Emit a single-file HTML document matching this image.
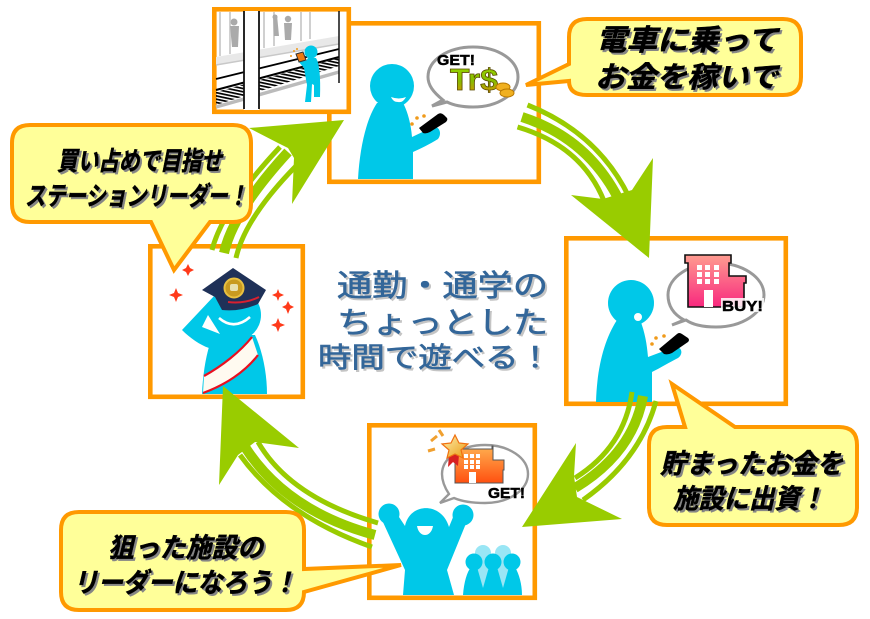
<!DOCTYPE html>
<html lang="ja">
<head>
<meta charset="utf-8">
<style>
html,body{margin:0;padding:0;background:#fff}
svg{display:block}
.c{font-family:"Liberation Sans","Noto Sans CJK JP",sans-serif;font-weight:700;font-style:italic;fill:#000;stroke:#000;stroke-width:.5;filter:drop-shadow(2px 2px 0 #858585)}
.m{font-family:"Liberation Sans","Noto Sans CJK JP",sans-serif;font-weight:400;fill:#336699;stroke:#336699;stroke-width:.6;filter:drop-shadow(2px 2px 0 #c4c4c4)}
.l{font-family:"Liberation Sans",sans-serif;font-weight:700;fill:#000;stroke:#000;stroke-width:.5}
</style>
</head>
<body>
<svg xmlns="http://www.w3.org/2000/svg" width="870" height="619" viewBox="0 0 870 619">
<defs>
<linearGradient id="g1" x1="0" y1="0" x2="0" y2="1"><stop offset="0" stop-color="#ff9c90"/><stop offset="1" stop-color="#f8287e"/></linearGradient>
<linearGradient id="g2" x1="0" y1="0" x2="0" y2="1"><stop offset="0" stop-color="#ffb050"/><stop offset="1" stop-color="#ff5010"/></linearGradient>
<linearGradient id="g3" x1="0" y1="0" x2="0" y2="1"><stop offset="0" stop-color="#99dd00"/><stop offset=".55" stop-color="#88bb00"/><stop offset="1" stop-color="#ee8800"/></linearGradient>
<linearGradient id="g4" x1="0" y1="0" x2="1" y2="1"><stop offset="0" stop-color="#fff0b0"/><stop offset="1" stop-color="#e89a10"/></linearGradient>
<pattern id="h" width="40" height="3.2" patternUnits="userSpaceOnUse" patternTransform="rotate(12)"><rect width="40" height="1.7" fill="#000"/></pattern>
</defs>
<rect width="870" height="619" fill="#fff"/>

<!-- box frames -->
<g fill="#fff" stroke="#ff9900" stroke-width="4.6">
<rect x="329.3" y="23.3" width="209.5" height="158.5"/>
<rect x="566.3" y="238.3" width="219.5" height="165.5"/>
<rect x="369.3" y="425.3" width="165.5" height="172.5"/>
<rect x="150.3" y="246.3" width="152.5" height="150.5"/>
</g>

<!-- figure 1 -->
<g fill="#00c8e8">
<circle cx="392" cy="86" r="22"/>
<path d="M358 179C360 145 367 118 377 103L403 103C408 112 411 125 412 137L433 127C440 126 442 134 438 139C430 144 420 149 413 152L413 179Z"/>
</g>
<path d="M391 97Q399 100 406 97Q403 103 398 102Q393 102 391 97Z" fill="#fff"/>
<path d="M419 128L438 114Q441 112 444 115L447 118Q448 120 446 122L430 132Q426 134 423 133Z" fill="#000"/>
<g fill="#f09a1a"><circle cx="412" cy="124" r="1.8"/><circle cx="417" cy="118" r="1.8"/><circle cx="424" cy="116" r="1.8"/></g>
<path d="M432 106L443 100C433 92 428 85 428 77C428 60 448 47 473 47C498 47 518 60 518 77C518 94 498 107 473 107C463 107 453 105 447 102Z" fill="#fff" stroke="#999" stroke-width="3"/>
<text class="l" x="437" y="65" font-size="15" textLength="38" lengthAdjust="spacingAndGlyphs">GET!</text>
<text class="l" x="450" y="90" font-size="31" textLength="48" lengthAdjust="spacingAndGlyphs" style="fill:url(#g3);stroke:#5a4a00;stroke-width:.8">Tr$</text>
<ellipse cx="503" cy="87" rx="7" ry="4" fill="#f0b020" stroke="#b87800"/>
<ellipse cx="507" cy="93" rx="7" ry="4" fill="#f0b020" stroke="#b87800"/>

<!-- train inset -->
<rect x="214.3" y="9.3" width="134.5" height="102.5" fill="#fff" stroke="#ff9900" stroke-width="4.6"/>
<g fill="none" stroke="#d0d0d0" stroke-width="2">
<path d="M220 12V56M230 12V54M264 12V48M274 12V46M301 12V41M310 12V39"/>
</g>
<path d="M216 57L339 36V44L216 65Z" fill="#e8e8e8"/>
<path d="M216 65L339 44" stroke="#c8c8c8" stroke-width="1.5" fill="none"/>
<g fill="#aaa">
<circle cx="234" cy="22" r="3.5"/><path d="M230 26H239L238 47H232Z"/>
<circle cx="275" cy="17" r="2.5"/><path d="M273 15H277L279 36H274Z"/>
<circle cx="288" cy="19" r="3.2"/><path d="M284 23H292L291 40H285Z"/>
</g>
<path d="M216 92L339 58V66L216 105Z" fill="url(#h)"/>
<g fill="none" stroke="#000">
<path d="M216 79L339 49" stroke-width="1.8"/>
<path d="M216 90L339 57" stroke-width="2"/>
</g>
<path d="M216 107L339 72" stroke="#bbb" stroke-width="3.5" fill="none"/>
<rect x="244" y="11" width="15" height="99" fill="#fff"/>
<g stroke="#111" fill="none"><path d="M244 11V109M259 11V109" stroke-width="1.8"/><path d="M339 11V83" stroke-width="1.5"/></g>
<g fill="#00c8e8">
<circle cx="311" cy="52" r="6.5"/>
<path d="M305 102L307 85L304 68L299 62L302 59L306 61L308 58L316 58Q321 66 320 97L314 97L314 85L312 84L311 102Z"/>
</g>
<path d="M296 54L303 52L306 60L299 62Z" fill="#ee7a10" stroke="#333" stroke-width="1"/>
<g fill="#f09a1a"><circle cx="291" cy="56" r="1"/><circle cx="294" cy="51" r="1"/><circle cx="297" cy="49" r="1"/></g>

<!-- figure 2 -->
<g fill="#00c8e8">
<circle cx="631" cy="303" r="23"/>
<path d="M596 402C597 368 604 340 617 320L640 320C645 332 647 345 648 357L672 348C682 344 684 354 678 358C670 362 660 368 652 372L652 402Z"/>
</g>
<circle cx="638" cy="317" r="4" fill="#fff"/>
<path d="M659 349L677 334Q679 332 682 334L688 338Q690 340 688 342L672 353Q668 355 664 354Z" fill="#000"/>
<g fill="#f09a1a"><circle cx="652" cy="344" r="1.8"/><circle cx="656" cy="338" r="1.8"/><circle cx="664" cy="336" r="1.8"/></g>
<path d="M672 325L684 320C673 314 668 305 668 295C668 277 690 263 716 263C742 263 764 277 764 295C764 313 742 327 716 327C704 327 693 325 686 320Z" fill="#fff" stroke="#999" stroke-width="3"/>
<path d="M685 255H731V263H729V276H746V283H744V307H688V263H685Z" fill="url(#g1)" stroke="#111" stroke-width="1.6"/>
<g fill="#fff">
<rect x="697" y="265" width="5" height="5"/><rect x="705" y="265" width="5" height="5"/><rect x="714" y="265" width="5" height="5"/>
<rect x="697" y="272" width="5" height="5"/><rect x="705" y="272" width="5" height="5"/><rect x="714" y="272" width="5" height="5"/>
<rect x="697" y="279" width="5" height="5"/><rect x="705" y="279" width="5" height="5"/><rect x="714" y="279" width="5" height="5"/>
<rect x="704" y="290" width="9" height="17"/>
</g>
<rect x="721" y="298" width="43" height="14" fill="#fff" opacity=".85"/>
<text class="l" x="722" y="311" font-size="15" textLength="41" lengthAdjust="spacingAndGlyphs">BUY!</text>

<!-- figure 3 -->
<path d="M440 503L449 494C445 488 442 481 442 474C442 458 461 445 485 445C509 445 528 458 528 474C528 490 509 503 485 503C472 503 461 501 454 498Z" fill="#fff" stroke="#999" stroke-width="2.4"/>
<path d="M455 449H492V446H493V460H504V470H503V483H455Z" fill="url(#g2)" stroke="#555" stroke-width="1"/>
<g fill="#fff">
<rect x="464" y="454" width="4" height="4"/><rect x="470" y="454" width="4" height="4"/><rect x="476" y="454" width="4" height="4"/>
<rect x="464" y="460" width="4" height="4"/><rect x="470" y="460" width="4" height="4"/><rect x="476" y="460" width="4" height="4"/>
<rect x="464" y="465" width="4" height="4"/><rect x="470" y="465" width="4" height="4"/><rect x="476" y="465" width="4" height="4"/>
<rect x="469" y="472" width="7" height="11"/>
</g>
<path d="M449 455L448 467L453 462L458 466L459 455Z" fill="#d82020"/>
<path d="M455 435L459 443L468 444L461 450L463 458L455 454L447 458L449 450L442 444L451 443Z" fill="url(#g4)" stroke="#f07010" stroke-width="1.2"/>
<g stroke="#f0a030" stroke-width="3" fill="none"><path d="M428 451L435 449M431 441L437 436M439 430L443 436"/></g>
<text class="l" x="488" y="498" font-size="15" textLength="37" lengthAdjust="spacingAndGlyphs">GET!</text>
<g fill="#00c8e8">
<circle cx="389" cy="514" r="10.5"/><circle cx="463" cy="515" r="10.5"/>
<path d="M382 520L393 508L405 526C410 502 442 502 449 527L456 510L467 521L447 570L454 595L403 595L405 570Z"/>
</g>
<path d="M417 526H433C431 538 419 538 417 526Z" fill="#fff"/>
<g fill="#99e6f5"><circle cx="483" cy="553" r="8"/><circle cx="503" cy="553" r="8"/><path d="M476 556H510V590H476Z"/></g>
<g fill="#00c8e8">
<circle cx="474" cy="562" r="8.5"/><circle cx="493" cy="562" r="8.5"/><circle cx="512" cy="562" r="8.5"/>
<path d="M463 595C464 582 467 572 471 567H477L483 588L489 567H497L503 588L509 567H515C519 574 522 584 522 595Z"/>
</g>

<!-- figure 4 -->
<g fill="#00c8e8">
<circle cx="235" cy="315" r="26"/>
<path d="M182 330L215 295L228 300L208 319L219 335L209 348C200 345 190 338 182 330Z"/>
<path d="M213 335H255C262 350 267 372 267 394H202C203 370 207 350 213 335Z"/>
</g>
<path d="M208 315L202 327L220 334Z" fill="#fff"/>
<path d="M219 318Q234 331 250 317" fill="none" stroke="#fff" stroke-width="2.6"/>
<path d="M202 290L233 268L266 290L258 304Q240 312 222 310L215 297Z" fill="#1f3158"/>
<path d="M228 302Q245 304 259 297" fill="none" stroke="#d82030" stroke-width="2"/>
<circle cx="234" cy="288" r="9.5" fill="#c89a20" stroke="#e8c040" stroke-width="2"/>
<rect x="230" y="284" width="8" height="7" rx="2" fill="#e8e0b0"/>
<path d="M252 337L258 355C245 372 225 385 203 393L204 376C222 366 240 352 252 337Z" fill="#fffaf0"/>
<path d="M252 337C240 352 222 366 204 376M258 355C245 372 225 385 203 393" fill="none" stroke="#e81020" stroke-width="2.2"/>
<g fill="#ff3a1a">
<path d="M188 264L190 268L194 270L190 272L188 276L186 272L182 270L186 268Z"/>
<path d="M176 288L178 293L183 295L178 297L176 302L174 297L169 295L174 293Z"/>
<path d="M278 289L279.5 293L284 295L279.5 297L278 301L276.5 297L272 295L276.5 293Z"/>
<path d="M288 301L290 305L294 307L290 309L288 314L286 309L282 307L286 305Z"/>
<path d="M278 318L280 323L285 325L280 327L278 332L276 327L271 325L276 323Z"/>
</g>

<!-- arrows -->
<g fill="none" stroke="#99cc00">
<path d="M527.5 105Q598 133 629 197" stroke-width="5"/>
<path d="M522 117Q590 139 621 204" stroke-width="10"/>
<path d="M517.5 127Q582 146 604 201" stroke-width="5"/>

<path d="M632 392Q624.5 447 575 478" stroke-width="5"/>
<path d="M643 396Q633 453 575 488" stroke-width="10"/>
<path d="M656 401Q640 460 583 500" stroke-width="5"/>

<path d="M378 523Q290 497.5 258 442" stroke-width="5"/>
<path d="M375 535Q286 511 245 447" stroke-width="10"/>
<path d="M372 547Q284 516 240 455" stroke-width="5"/>

<path d="M212 250Q222.7 208 280 147" stroke-width="5"/>
<path d="M224 253Q233 212 288 152" stroke-width="10"/>
<path d="M236 258Q245 218 296 166" stroke-width="5"/>
</g>
<g fill="#99cc00">
<path d="M649 258L653 158L632 190L603 199L571 195Z"/>
<path d="M522 527L576 443L574 476L577 497L622 519Z"/>
<path d="M223 386L299 448L255 442L238 455L219 485Z"/>
<path d="M344 120L249 128L278 143L288 148L294 158L292 204Z"/>
</g>

<!-- callouts -->
<g fill="#ffff99" stroke="#ff9900" stroke-width="4" stroke-linejoin="miter">
<path d="M587 19H783Q801 19 801 37V77Q801 95 783 95H587Q569 95 569 81L526 85L569 64V37Q569 19 587 19Z"/>
<path d="M30 125H233Q251 125 251 143V204Q251 222 233 222H210L174 270L151 222H30Q12 222 12 204V143Q12 125 30 125Z"/>
<path d="M667 427H685L672 384L735 427H839Q857 427 857 445V507Q857 525 839 525H667Q649 525 649 507V445Q649 427 667 427Z"/>
<path d="M79 512H286Q304 512 304 530V569L401 565L304 592Q304 610 286 610H79Q61 610 61 592V530Q61 512 79 512Z"/>
</g>

<!-- callout text -->
<text class="c" x="596" y="50" font-size="29" textLength="182" lengthAdjust="spacingAndGlyphs">電車に乗って</text>
<text class="c" x="595" y="87" font-size="29" textLength="183" lengthAdjust="spacingAndGlyphs">お金を稼いで</text>
<text class="c" x="57" y="170" font-size="26" textLength="165" lengthAdjust="spacingAndGlyphs">買い占めで目指せ</text>
<text class="c" x="25" y="205" font-size="26" textLength="223" lengthAdjust="spacingAndGlyphs">ステーションリーダー！</text>
<text class="c" x="660" y="473" font-size="27" textLength="183" lengthAdjust="spacingAndGlyphs">貯まったお金を</text>
<text class="c" x="673" y="508" font-size="27" textLength="152" lengthAdjust="spacingAndGlyphs">施設に出資！</text>
<text class="c" x="108" y="557" font-size="27" textLength="155" lengthAdjust="spacingAndGlyphs">狙った施設の</text>
<text class="c" x="73" y="592" font-size="27" textLength="224" lengthAdjust="spacingAndGlyphs">リーダーになろう！</text>

<!-- centre text -->
<text class="m" x="337" y="296" font-size="30" textLength="211" lengthAdjust="spacingAndGlyphs">通勤・通学の</text>
<text class="m" x="337" y="333" font-size="30" textLength="211" lengthAdjust="spacingAndGlyphs">ちょっとした</text>
<text class="m" x="318" y="367" font-size="28" textLength="234" lengthAdjust="spacingAndGlyphs">時間で遊べる！</text>
</svg>
</body>
</html>
